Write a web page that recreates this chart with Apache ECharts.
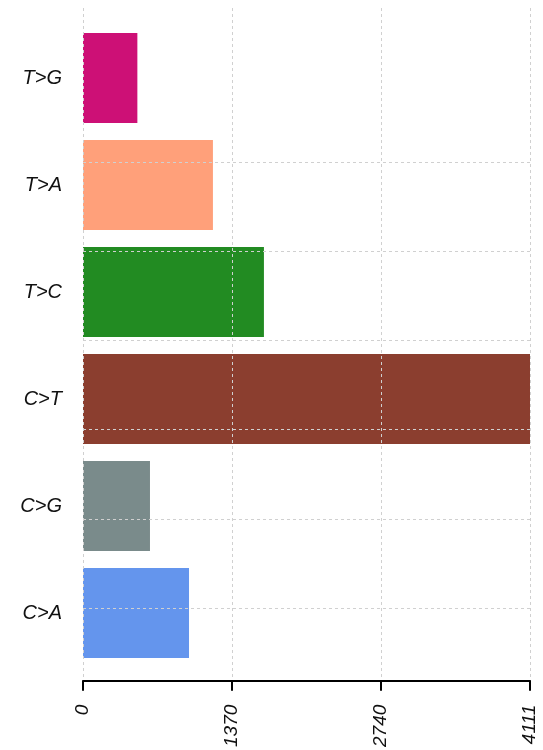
<!DOCTYPE html>
<html>
<head>
<meta charset="utf-8">
<script src="https://cdn.jsdelivr.net/npm/echarts@6/dist/echarts.min.js"></script>
<style>
  html, body { margin: 0; padding: 0; background: #fff; }
  #chart { width: 543px; height: 750px; }
</style>
</head>
<body>
<div id="chart"></div>
<script>
// categories bottom -> top
const categories = ['C>A', 'C>G', 'C>T', 'T>C', 'T>A', 'T>G']
const counts = [975, 616, 4111, 1664, 1195, 500]
const barColors = ['#6495ED', '#7A8B8B', '#8B3E2F', '#228B22', '#FFA07A', '#CD1076']
const xTicks = [0, 1370, 2740, 4111]

const gridColor = '#d0d0d0'
const labelFont = 'Liberation Sans, Arial, sans-serif'

const chart = echarts.init(document.getElementById('chart'))

chart.setOption({
  animation: false,
  grid: [
    // bars
    { left: 83, right: 13, top: 24.5, bottom: 83.5 },
    // x axis + vertical grid
    { left: 83, right: 13, top: 8, bottom: 68 },
    // horizontal grid lines
    { left: 83, right: 13, top: 162, bottom: 142 }
  ],
  xAxis: [
    {
      gridIndex: 0,
      type: 'value',
      min: xTicks[0],
      max: xTicks[xTicks.length - 1],
      show: false
    },
    {
      gridIndex: 1,
      type: 'value',
      min: xTicks[0],
      max: xTicks[xTicks.length - 1],
      interval: xTicks[1],
      z: 5,
      axisLine: { show: true, lineStyle: { color: '#000', width: 2 } },
      axisTick: { show: true, length: 10, lineStyle: { color: '#000', width: 2 } },
      axisLabel: {
        rotate: 90,
        margin: 24,
        fontSize: 19,
        fontStyle: 'italic',
        fontFamily: labelFont,
        color: '#111',
        showMinLabel: true,
        showMaxLabel: true,
        formatter: v => String(v)
      },
      splitLine: { show: true, lineStyle: { color: gridColor, type: [3, 3], width: 1 } }
    },
    {
      gridIndex: 2,
      type: 'value',
      show: false
    }
  ],
  yAxis: [
    {
      gridIndex: 0,
      type: 'category',
      data: categories,
      axisLine: { show: false },
      axisTick: { show: false },
      splitLine: { show: false },
      axisLabel: {
        margin: 21,
        fontSize: 20,
        fontStyle: 'italic',
        fontFamily: labelFont,
        color: '#111'
      }
    },
    {
      gridIndex: 1,
      type: 'value',
      show: false
    },
    {
      gridIndex: 2,
      type: 'value',
      min: 0,
      max: 5,
      interval: 1,
      z: 5,
      axisLine: { show: false },
      axisTick: { show: false },
      axisLabel: { show: false },
      splitLine: { show: true, lineStyle: { color: gridColor, type: [3, 3], width: 1 } }
    }
  ],
  series: [
    {
      type: 'bar',
      xAxisIndex: 0,
      yAxisIndex: 0,
      barWidth: '84%',
      data: counts.map((v, i) => {
        return {
          value: v,
          itemStyle: { color: barColors[i] }
        }
      })
    }
  ]
})
</script>
</body>
</html>
